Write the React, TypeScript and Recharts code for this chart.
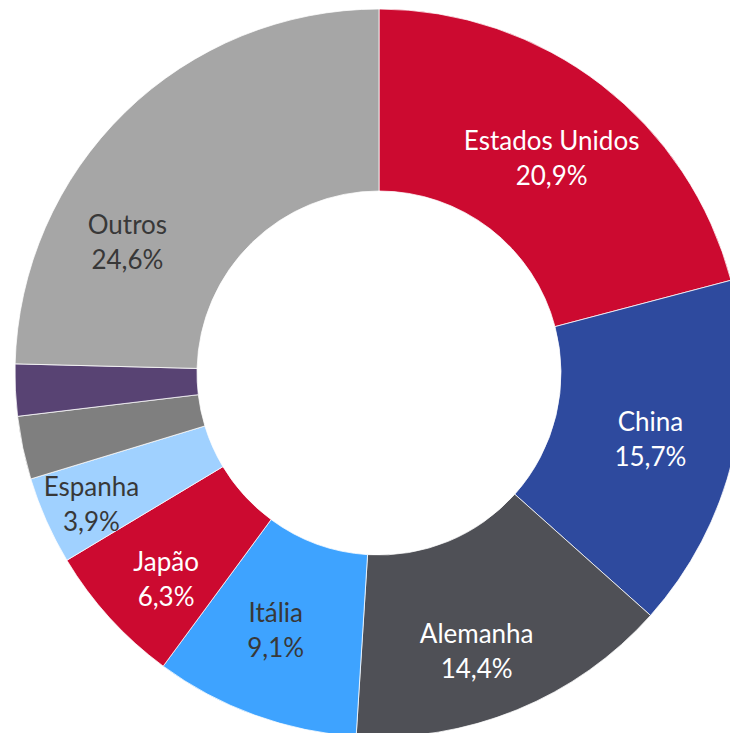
import { PieChart, Pie, Cell } from "recharts";

const countries = ["Estados Unidos", "China", "Alemanha", "Itália", "Japão", "Espanha", "", "", "Outros"];
const shares = [20.9, 15.7, 14.4, 9.1, 6.3, 3.9, 2.8, 2.3, 24.6];
const shareLabels = ["20,9%", "15,7%", "14,4%", "9,1%", "6,3%", "3,9%", "", "", "24,6%"];

const fills = ["#cc0a30", "#2e4a9e", "#4f5056", "#3ea3ff", "#cc0a30", "#a0d1ff", "#7f7f7f", "#584373", "#a6a6a6"];
const textColors = ["#fff", "#fff", "#fff", "#383838", "#fff", "#383838", "#fff", "#fff", "#383838"];
// Excel pushes some labels away from the mid radius
const labelShift: [number, number][] = [
  [6, 2], [6, 3], [-6, 26], [-10, 1], [-11, 23], [-38, 21], [0, 0], [0, 0], [-61, 65],
];

const data = countries.map((name, i) => ({ name, value: shares[i], pct: shareLabels[i] }));

const RAD = Math.PI / 180;

function renderLabel(props: any) {
  const { cx, cy, midAngle, innerRadius, outerRadius, index } = props;
  if (!countries[index]) return null;
  const r = (innerRadius + outerRadius) / 2;
  const x = cx + r * Math.cos(-midAngle * RAD) + labelShift[index][0];
  const y = cy + r * Math.sin(-midAngle * RAD) + labelShift[index][1];
  return (
    <text
      x={x}
      y={y}
      textAnchor="middle"
      fill={textColors[index]}
      style={{ fontFamily: "Lato, 'Open Sans', sans-serif", fontSize: 26 }}
    >
      <tspan x={x} y={y - 9}>{countries[index]}</tspan>
      <tspan x={x} y={y + 26}>{shareLabels[index]}</tspan>
    </text>
  );
}

export default function App() {
  return (
    <div style={{ position: "absolute", left: 0, top: 0, width: 730, height: 733, background: "#fff" }}>
      <PieChart width={730} height={733} margin={{ top: 0, right: 0, bottom: 0, left: 0 }}>
        <Pie
          data={data}
          dataKey="value"
          cx={379}
          cy={373}
          innerRadius={182}
          outerRadius={364}
          startAngle={90}
          endAngle={-270}
          stroke="#ffffff"
          strokeWidth={0.75}
          label={renderLabel}
          labelLine={false}
          isAnimationActive={false}
        >
          {data.map((d, i) => (
            <Cell key={i} fill={fills[i]} />
          ))}
        </Pie>
      </PieChart>
    </div>
  );
}
